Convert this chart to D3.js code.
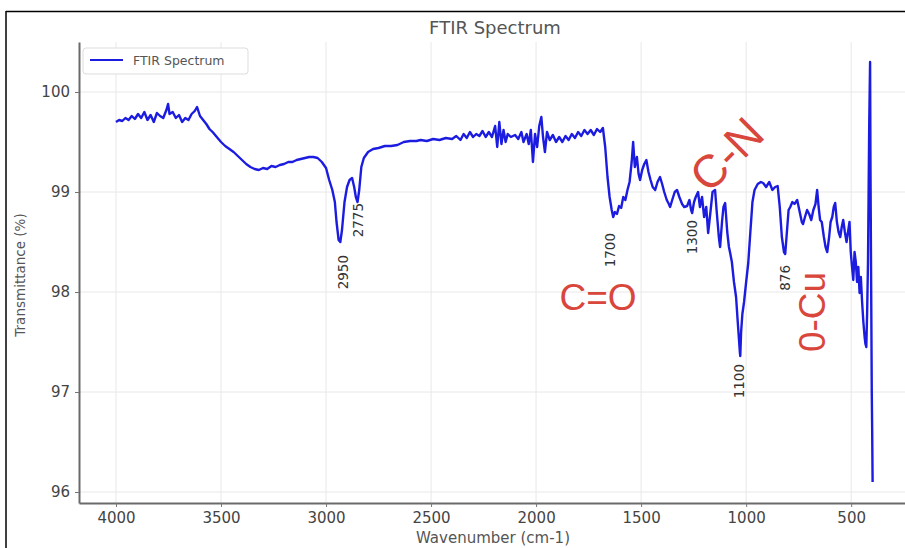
<!DOCTYPE html>
<html>
<head>
<meta charset="utf-8">
<script src="https://cdn.jsdelivr.net/npm/d3@7"></script>
<style>
  body { margin: 0; background: #fff; }
  svg { display: block; }
</style>
</head>
<body>
<svg class="chart" width="905" height="548"></svg>
<script>
// spectrum (wavenumber cm-1 / transmittance %)
const wavenumbers = [
  4000, 3985, 3970, 3955, 3940, 3925, 3910, 3895, 3880, 3865, 3850, 3835, 3820, 3805, 3790, 3775,
  3760, 3752, 3745, 3730, 3715, 3700, 3685, 3670, 3655, 3640, 3625, 3614, 3600, 3585, 3570, 3555,
  3540, 3520, 3500, 3480, 3460, 3440, 3420, 3400, 3380, 3360, 3340, 3320, 3300, 3280, 3260, 3240,
  3220, 3200, 3180, 3160, 3140, 3120, 3100, 3080, 3060, 3040, 3020, 3000, 2985, 2970, 2958, 2950,
  2940, 2932, 2924, 2912, 2900, 2888, 2876, 2866, 2858, 2850, 2842, 2832, 2820, 2800, 2776, 2750,
  2720, 2690, 2660, 2630, 2600, 2570, 2550, 2520, 2490, 2460, 2430, 2400, 2380, 2360, 2345, 2330,
  2315, 2300, 2285, 2270, 2255, 2240, 2225, 2210, 2195, 2185, 2175, 2165, 2155, 2145, 2135, 2120,
  2100, 2085, 2070, 2060, 2045, 2035, 2025, 2015, 2005, 1995, 1985, 1975, 1967, 1958, 1948, 1935,
  1920, 1905, 1890, 1875, 1860, 1845, 1830, 1815, 1800, 1785, 1770, 1755, 1740, 1725, 1710, 1695,
  1682, 1671, 1660, 1650, 1640, 1633, 1625, 1615, 1605, 1595, 1585, 1575, 1565, 1555, 1545, 1538,
  1530, 1520, 1512, 1505, 1495, 1485, 1475, 1465, 1455, 1445, 1433, 1422, 1410, 1400, 1390, 1378,
  1368, 1362, 1352, 1340, 1329, 1318, 1305, 1295, 1281, 1270, 1262, 1257, 1248, 1240, 1229, 1220,
  1210, 1200, 1190, 1181, 1170, 1160, 1148, 1140, 1130, 1124, 1115, 1108, 1100, 1090, 1082, 1076,
  1068, 1058, 1048, 1040, 1035, 1030, 1028, 1024, 1018, 1010, 1000, 990, 980, 970, 960, 945,
  930, 919, 905, 890, 875, 862, 850, 840, 830, 820, 814, 806, 798, 790, 780, 770,
  757, 745, 735, 729, 720, 710, 700, 690, 680, 670, 662, 655, 648, 640, 630, 622,
  614, 605, 598, 590, 583, 576, 568, 560, 552, 545, 538, 530, 522, 515, 508, 502,
  496, 490, 484, 478, 472, 466, 460, 454, 448, 442, 436, 432, 428, 424, 420, 417,
  414, 412, 410, 408, 405, 402, 400, 398
]
const transmittance = [
  99.70, 99.72, 99.71, 99.74, 99.72, 99.76, 99.73, 99.78, 99.74, 99.80, 99.72, 99.77, 99.70, 99.79, 99.76, 99.74,
  99.82, 99.88, 99.78, 99.80, 99.74, 99.77, 99.70, 99.74, 99.72, 99.78, 99.81, 99.85, 99.76, 99.72, 99.68, 99.63,
  99.60, 99.55, 99.50, 99.46, 99.43, 99.40, 99.36, 99.32, 99.28, 99.25, 99.23, 99.22, 99.24, 99.23, 99.26, 99.25,
  99.27, 99.28, 99.30, 99.30, 99.32, 99.33, 99.34, 99.35, 99.35, 99.34, 99.30, 99.24, 99.12, 99.02, 98.90, 98.70,
  98.52, 98.50, 98.62, 98.90, 99.05, 99.12, 99.14, 99.05, 98.95, 98.90, 99.02, 99.25, 99.34, 99.40, 99.43, 99.44,
  99.46, 99.46, 99.47, 99.50, 99.51, 99.51, 99.52, 99.51, 99.53, 99.52, 99.54, 99.53, 99.56, 99.52, 99.58, 99.54,
  99.60, 99.55, 99.58, 99.56, 99.61, 99.55, 99.60, 99.55, 99.66, 99.45, 99.70, 99.48, 99.62, 99.50, 99.58, 99.55,
  99.57, 99.53, 99.60, 99.50, 99.58, 99.48, 99.62, 99.30, 99.58, 99.45, 99.66, 99.75, 99.55, 99.40, 99.60, 99.52,
  99.57, 99.50, 99.55, 99.50, 99.56, 99.52, 99.58, 99.54, 99.60, 99.56, 99.62, 99.58, 99.62, 99.57, 99.63, 99.60,
  99.64, 99.45, 99.15, 98.95, 98.82, 98.75, 98.80, 98.78, 98.86, 98.84, 98.95, 98.92, 99.02, 99.10, 99.30, 99.50,
  99.25, 99.35, 99.18, 99.12, 99.22, 99.28, 99.32, 99.20, 99.12, 99.05, 99.02, 99.10, 99.15, 99.08, 99.00, 98.92,
  98.88, 98.85, 98.92, 99.00, 99.02, 98.95, 98.88, 98.85, 98.86, 98.92, 98.82, 98.79, 98.90, 98.95, 99.00, 98.85,
  98.95, 98.75, 98.85, 98.59, 98.80, 99.00, 99.02, 98.80, 98.55, 98.45, 98.70, 98.85, 98.89, 98.60, 98.45, 98.39,
  98.30, 98.10, 97.95, 97.70, 97.55, 97.40, 97.36, 97.60, 97.78, 97.90, 98.10, 98.29, 98.60, 98.90, 99.02, 99.08,
  99.10, 99.09, 99.05, 99.10, 99.02, 99.05, 99.06, 98.85, 98.55, 98.40, 98.38, 98.60, 98.82, 98.85, 98.90, 98.88,
  98.92, 98.80, 98.70, 98.68, 98.75, 98.82, 98.78, 98.72, 98.82, 98.88, 99.02, 98.85, 98.72, 98.70, 98.55, 98.45,
  98.40, 98.55, 98.70, 98.75, 98.85, 98.89, 98.70, 98.60, 98.55, 98.65, 98.72, 98.60, 98.50, 98.60, 98.70, 98.40,
  98.25, 98.12, 98.40, 98.30, 98.10, 98.25, 97.99, 98.15, 97.90, 97.70, 97.55, 97.48, 97.45, 97.80, 98.30, 99.00,
  99.70, 100.00, 100.30, 99.20, 98.10, 97.00, 96.60, 96.10
]

const xTicks = [4000, 3500, 3000, 2500, 2000, 1500, 1000, 500]
const yTicks = [96, 97, 98, 99, 100]

// peak labels (grey, vertical) and group labels (red)
const peakNames = ['2950', '2775', '1700', '1300', '1100', '876']
const peakAt = [2919, 2848, 1648, 1257, 1033, 814]
const peakTop = [98.37, 98.89, 98.59, 98.72, 97.28, 98.27]

const groupNames = ['C=O', 'C-N', '0-Cu']
const groupAt = [1705, 1095, 690]
const groupLevel = [97.95, 99.38, 97.80]
const groupAngle = [0, -45, -90]

const data = wavenumbers.map((w, i) => ({w: w, t: transmittance[i]}))

const plotL = 79, plotR = 910, plotT = 42, plotB = 503
const x = d3.scaleLinear([4176, 220], [plotL, plotR])
const y = d3.scaleLinear([95.89, 100.5], [plotB, plotT])

const svg = d3.select('.chart')

// outer frame (top and left edges only show)
svg.append('line').attr('x1', 6).attr('x2', 905).attr('y1', 11.5).attr('y2', 11.5)
    .attr('stroke', '#000').attr('stroke-width', 1.5)
svg.append('line').attr('x1', 6).attr('x2', 6).attr('y1', 11).attr('y2', 548)
    .attr('stroke', '#000').attr('stroke-width', 1.5)

svg.append('clipPath').attr('id', 'plot')
    .append('rect').attr('x', plotL).attr('y', plotT).attr('width', plotR - plotL).attr('height', plotB - plotT)

// grid
svg.append('g').selectAll('line')
    .data(xTicks)
    .join('line')
        .attr('x1', d => x(d)).attr('x2', d => x(d))
        .attr('y1', plotT).attr('y2', plotB)
        .attr('stroke', '#e8e8e8')
svg.append('g').selectAll('line')
    .data(yTicks)
    .join('line')
        .attr('x1', plotL).attr('x2', plotR)
        .attr('y1', d => y(d)).attr('y2', d => y(d))
        .attr('stroke', '#e8e8e8')

const line = d3.line().x(d => x(d.w)).y(d => y(d.t))
svg.append('path')
    .datum(data)
    .attr('clip-path', 'url(#plot)')
    .attr('d', line)
    .attr('fill', 'none')
    .attr('stroke', '#1c1ce0')
    .attr('stroke-width', 2.4)
    .attr('stroke-linejoin', 'round')

// axes
const xAxis = svg.append('g')
    .attr('transform', `translate(0, ${plotB})`)
    .call(d3.axisBottom(x).tickValues(xTicks).tickFormat(d3.format('d'))
        .tickSize(4).tickPadding(5).tickSizeOuter(0))
const yAxis = svg.append('g')
    .attr('transform', `translate(${plotL}, 0)`)
    .call(d3.axisLeft(y).tickValues(yTicks).tickFormat(d3.format('d'))
        .tickSize(4).tickPadding(5).tickSizeOuter(0))

for (const ax of [xAxis, yAxis]) {
    ax.select('.domain').attr('stroke', '#6a6a6a').attr('stroke-width', 2)
    ax.selectAll('.tick line').attr('stroke', '#777')
    ax.selectAll('.tick text')
        .attr('fill', '#444')
        .attr('font-family', 'DejaVu Sans')
        .attr('font-size', '15px')
}

svg.append('text')
    .text('Wavenumber (cm-1)')
    .attr('x', 493).attr('y', 543)
    .attr('text-anchor', 'middle')
    .attr('font-family', 'DejaVu Sans')
    .attr('font-size', '15px')
    .attr('fill', '#555')

svg.append('text')
    .text('Transmittance (%)')
    .attr('transform', 'translate(25, 275) rotate(-90)')
    .attr('text-anchor', 'middle')
    .attr('font-family', 'DejaVu Sans')
    .attr('font-size', '13.5px')
    .attr('fill', '#555')

svg.append('text')
    .text('FTIR Spectrum')
    .attr('x', 495).attr('y', 34)
    .attr('text-anchor', 'middle')
    .attr('font-family', 'DejaVu Sans')
    .attr('font-size', '18px')
    .attr('fill', '#555')

// legend
const legend = svg.append('g')
legend.append('rect')
    .attr('x', 83).attr('y', 48).attr('width', 165).attr('height', 26).attr('rx', 3)
    .attr('fill', '#fff').attr('stroke', '#ddd')
legend.append('line')
    .attr('x1', 90).attr('x2', 123).attr('y1', 60).attr('y2', 60)
    .attr('stroke', '#1c1ce0').attr('stroke-width', 2)
legend.append('text')
    .text('FTIR Spectrum')
    .attr('x', 133).attr('y', 65)
    .attr('font-family', 'DejaVu Sans')
    .attr('font-size', '12.5px')
    .attr('fill', '#555')

// peak annotations
svg.append('g').selectAll('text')
    .data(peakNames)
    .join('text')
        .text(d => d)
        .attr('transform', (d, i) => `translate(${x(peakAt[i])}, ${y(peakTop[i])}) rotate(-90)`)
        .attr('text-anchor', 'end')
        .attr('dy', '0.35em')
        .attr('font-family', 'DejaVu Sans')
        .attr('font-size', '13.5px')
        .attr('fill', '#333')

svg.append('g').selectAll('text')
    .data(groupNames)
    .join('text')
        .text(d => d)
        .attr('transform', (d, i) => `translate(${x(groupAt[i])}, ${y(groupLevel[i])}) rotate(${groupAngle[i]})`)
        .attr('text-anchor', 'middle')
        .attr('dy', '0.36em')
        .attr('font-family', 'Liberation Sans')
        .attr('font-size', (d, i) => i == 1 ? '46px' : '37px')
        .attr('fill', '#d8463c')
</script>
</body>
</html>
